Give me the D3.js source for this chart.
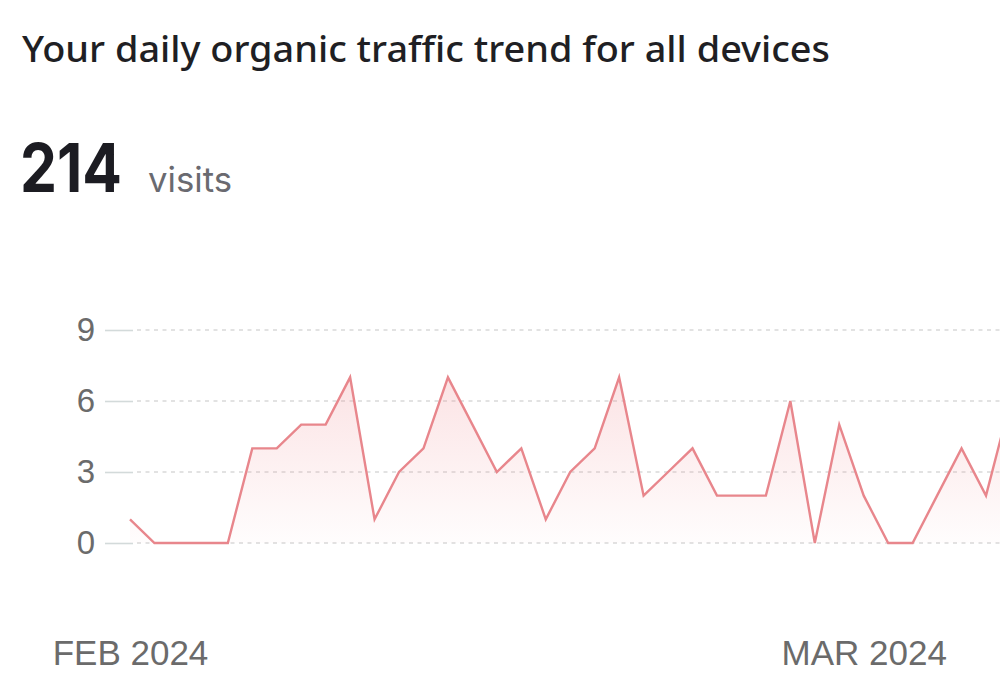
<!DOCTYPE html>
<html>
<head>
<meta charset="utf-8">
<script src="https://cdn.jsdelivr.net/npm/d3@7"></script>
<style>
  html, body { margin: 0; padding: 0; background: #fff; overflow: hidden; }
  svg { display: block; }
</style>
</head>
<body>
<svg id="chart" width="1000" height="680"></svg>
<script>
// daily visits (last point is cut off at the right edge)
const visits = [1, 0, 0, 0, 0, 4, 4, 5, 5, 7, 1, 3, 4, 7, 5, 3, 4, 1, 3, 4, 7, 2, 3, 4, 2, 2, 2, 6, 0, 5, 2, 0, 0, 2, 4, 2, 6];
const yTicks = [0, 3, 6, 9];
const monthTickIdx = [0, 30];
const monthLabels = ["FEB 2024", "MAR 2024"];
const titleText = "Your daily organic traffic trend for all devices";
const totalVisits = 214;

const svg = d3.select("#chart");
const width = 1000, height = 680;

const x = d3.scaleLinear().domain([0, 35]).range([130, 986]);
const y = d3.scaleLinear().domain([0, 9]).range([543, 330]);

// header
svg.append("text")
    .attr("x", 22).attr("y", 62)
    .attr("fill", "#1f1f24")
    .style("font-family", "'Noto Sans', Inter, sans-serif")
    .style("font-size", "36px")
    .style("font-weight", "500")
    .attr("textLength", 808)
    .attr("lengthAdjust", "spacingAndGlyphs")
    .text(titleText);

svg.append("text")
    .attr("x", 20).attr("y", 192)
    .attr("fill", "#1c1c22")
    .style("font-family", "Inter, 'Noto Sans', sans-serif")
    .style("font-size", "68px")
    .style("font-weight", "700")
    .attr("textLength", 102)
    .attr("lengthAdjust", "spacingAndGlyphs")
    .text(totalVisits);

svg.append("text")
    .attr("x", 148).attr("y", 192)
    .attr("fill", "#6a6a70")
    .style("font-family", "Inter, 'Noto Sans', sans-serif")
    .style("font-size", "35px")
    .style("font-weight", "400")
    .attr("textLength", 84)
    .attr("lengthAdjust", "spacingAndGlyphs")
    .text("visits");

// y axis: short solid tick + dashed grid
const yAxis = svg.append("g")
    .attr("transform", "translate(133,0)")
    .call(d3.axisLeft(y).tickValues(yTicks).tickSize(28).tickPadding(10));
yAxis.select(".domain").remove();
yAxis.selectAll(".tick line").attr("stroke", "#d3dada").attr("stroke-width", 1.6);
yAxis.selectAll(".tick text")
    .attr("fill", "#6b6b6b")
    .style("font-family", "'Liberation Sans', Arial, sans-serif")
    .style("font-size", "33px");

svg.append("g").selectAll("line")
    .data(yTicks)
    .join("line")
    .attr("x1", 137).attr("x2", width)
    .attr("y1", d => y(d)).attr("y2", d => y(d))
    .attr("stroke", "#d9d9d9")
    .attr("stroke-width", 1.6)
    .attr("stroke-dasharray", "4,4.5");

// gradient fill under the line
const defs = svg.append("defs");
const grad = defs.append("linearGradient")
    .attr("id", "areaGrad")
    .attr("gradientUnits", "userSpaceOnUse")
    .attr("x1", 0).attr("x2", 0)
    .attr("y1", y(7)).attr("y2", y(0));
grad.append("stop").attr("offset", "0%").attr("stop-color", "#f08a90").attr("stop-opacity", 0.24);
grad.append("stop").attr("offset", "100%").attr("stop-color", "#f08a90").attr("stop-opacity", 0.02);

const area = d3.area()
    .x((d, i) => x(i))
    .y0(y(0))
    .y1(d => y(d));

const line = d3.line()
    .x((d, i) => x(i))
    .y(d => y(d));

svg.append("path")
    .datum(visits)
    .attr("d", area)
    .attr("fill", "url(#areaGrad)");

svg.append("path")
    .datum(visits)
    .attr("d", line)
    .attr("fill", "none")
    .attr("stroke", "#e8868c")
    .attr("stroke-width", 2.4)
    .attr("stroke-linejoin", "miter");

// month labels
const xAxis = svg.append("g")
    .attr("transform", "translate(0,630)")
    .call(d3.axisBottom(x).tickValues(monthTickIdx).tickSize(0).tickPadding(0)
        .tickFormat((d, i) => monthLabels[i]));
xAxis.select(".domain").remove();
xAxis.selectAll(".tick text")
    .attr("dy", "1.0em")
    .attr("fill", "#6b6b6b")
    .style("font-family", "'Liberation Sans', Arial, sans-serif")
    .style("font-size", "35px");
</script>
</body>
</html>
